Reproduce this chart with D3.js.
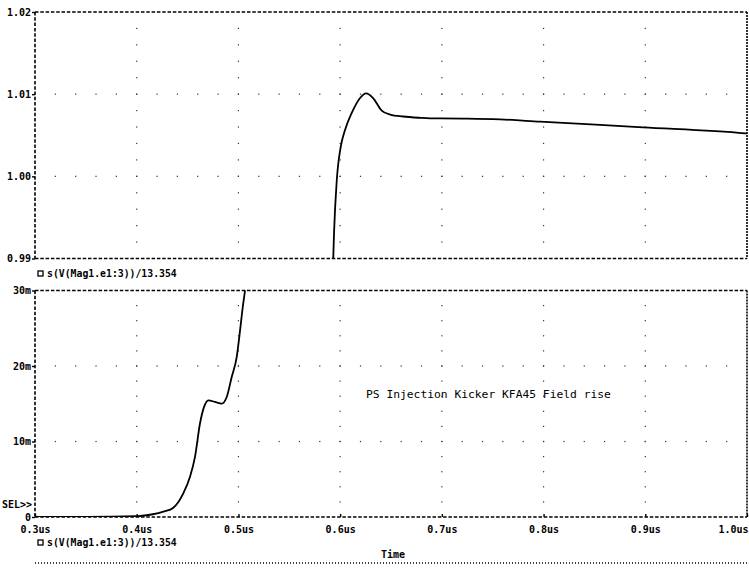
<!DOCTYPE html>
<html>
<head>
<meta charset="utf-8">
<script src="https://cdn.jsdelivr.net/npm/d3@7"></script>
<style>
  body { margin: 0; background: #fff; }
  svg { display: block; }
  text { font-family: "DejaVu Sans Mono", monospace; fill: #000; }
</style>
</head>
<body>
<svg></svg>
<script>
// данные графика
const timeTicks = [0.3, 0.4, 0.5, 0.6, 0.7, 0.8, 0.9, 1.0];
const timeLabels = ["0.3us", "0.4us", "0.5us", "0.6us", "0.7us", "0.8us", "0.9us", "1.0us"];

const upperTicks = [0.99, 1.00, 1.01, 1.02];
const upperLabels = ["0.99", "1.00", "1.01", "1.02"];
const lowerTicks = [0, 0.01, 0.02, 0.03];
const lowerLabels = ["0", "10m", "20m", "30m"];

// верхняя панель: вершина фронта
const upperTime = [0.5931, 0.594, 0.5967, 0.6006, 0.6048, 0.6114, 0.6196, 0.6255, 0.6324, 0.6409,
    0.6491, 0.6619, 0.6786, 0.6884, 0.6983, 0.7248, 0.7572, 0.7966, 0.8978, 0.9981, 1.0];
const upperValue = [0.9895, 0.9931, 0.99955, 1.00361, 1.00564, 1.00771, 1.00953, 1.0101, 1.00953, 1.008,
    1.00752, 1.00728, 1.00712, 1.00706, 1.00705, 1.00703, 1.00694, 1.00665, 1.00597, 1.00524, 1.00522];

// нижняя панель: начало фронта
const lowerTime = [0.3, 0.35, 0.4, 0.4032, 0.4262, 0.436, 0.4458, 0.4524, 0.4573, 0.4622, 0.4662,
    0.4704, 0.477, 0.4836, 0.4885, 0.4934, 0.4983, 0.5016, 0.5042, 0.5065, 0.509];
const lowerValue = [0, 0, 0.0001, 0.00013, 0.0007, 0.00123, 0.00313, 0.00533, 0.00797, 0.01238, 0.01458,
    0.01546, 0.01524, 0.01502, 0.0159, 0.01854, 0.02118, 0.02471, 0.02775, 0.03, 0.0325];

const traceName = "s(V(Mag1.e1:3))/13.354";
const note = "PS Injection Kicker KFA45 Field rise";

const width = 749, height = 569;
const svg = d3.select("svg").attr("width", width).attr("height", height);

const x = d3.scaleLinear().domain([0.3, 1.0]).range([35, 747]);

function boldLabels(sel) {
    sel.style("font-family", "'DejaVu Sans Mono', monospace")
        .style("font-size", "10px").style("font-weight", "bold")
        .attr("fill", "#000");
}

class Panel {
    constructor(id, domain, top, bottom, ticks, labels) {
        this.id = id;
        this.top = top;
        this.bottom = bottom;
        this.ticks = ticks;
        this.labels = labels;
        this.y = d3.scaleLinear().domain(domain).range([bottom, top]);
        this.g = svg.append("g");
        svg.append("clipPath").attr("id", id)
            .append("rect")
            .attr("x", x.range()[0]).attr("y", top)
            .attr("width", x.range()[1] - x.range()[0]).attr("height", bottom - top);
    }

    drawGrid() {
        const y = this.y;
        const [y0, y1] = y.domain();
        const dots = [];
        // вертикальные точечные линии
        timeTicks.slice(1, -1).forEach(t => {
            for (let k = 1; k < 15; k++) dots.push([x(t), y(y0 + (y1 - y0) * k / 15)]);
        });
        // горизонтальные точечные линии
        this.ticks.slice(1, -1).forEach(v => {
            for (let k = 1; k < 35; k++) dots.push([x(0.3 + 0.7 * k / 35), y(v)]);
        });
        this.g.append("g").selectAll("rect").data(dots).join("rect")
            .attr("x", d => d[0] - 0.6).attr("y", d => d[1] - 0.6)
            .attr("width", 1.2).attr("height", 1.2)
            .attr("fill", "#333");
    }

    drawFrame() {
        const [xl, xr] = x.range();
        const frame = this.g.append("g")
            .attr("stroke", "#000").attr("stroke-width", 1.6)
            .attr("stroke-dasharray", "3.5,1.8").attr("fill", "none");
        frame.append("line").attr("x1", xl).attr("x2", xr).attr("y1", this.top).attr("y2", this.top);
        frame.append("line").attr("x1", xl).attr("x2", xr).attr("y1", this.bottom).attr("y2", this.bottom);
        frame.append("line").attr("x1", xl).attr("x2", xl).attr("y1", this.top).attr("y2", this.bottom);
        frame.append("line").attr("x1", xr).attr("x2", xr).attr("y1", this.top).attr("y2", this.bottom)
            .attr("stroke-dasharray", "2,1");

        const axis = d3.axisLeft(this.y)
            .tickValues(this.ticks)
            .tickFormat((d, i) => this.labels[i])
            .tickSize(3).tickPadding(1);
        const ga = this.g.append("g").attr("transform", `translate(${xl},0)`).call(axis);
        ga.select(".domain").remove();
        ga.selectAll("line").attr("stroke", "#000").attr("stroke-width", 1.4);
        ga.selectAll("text").call(boldLabels);
    }

    drawTrace(times, values) {
        const line = d3.line()
            .x((d, i) => x(times[i]))
            .y(d => this.y(d))
            .curve(d3.curveMonotoneX);
        this.g.append("path")
            .attr("clip-path", `url(#${this.id})`)
            .attr("d", line(values))
            .attr("fill", "none")
            .attr("stroke", "#000")
            .attr("stroke-width", 1.8);
    }
}

function legend(yPos) {
    svg.append("rect").attr("x", 38).attr("y", yPos - 3).attr("width", 5).attr("height", 5)
        .attr("fill", "none").attr("stroke", "#000").attr("stroke-width", 1.3);
    svg.append("text").attr("x", 47).attr("y", yPos).attr("dy", "0.35em")
        .style("font-size", "9.8px").style("font-weight", "bold")
        .text(traceName);
}

// верхняя панель
const upper = new Panel("clipUpper", [0.99, 1.02], 12, 258.5, upperTicks, upperLabels);
upper.drawGrid();
upper.drawFrame();
upper.drawTrace(upperTime, upperValue);
legend(274);

// нижняя панель
const lower = new Panel("clipLower", [0, 0.03], 290.5, 517, lowerTicks, lowerLabels);
lower.drawGrid();
lower.drawFrame();
lower.drawTrace(lowerTime, lowerValue);

// ось времени
const xAxis = d3.axisBottom(x)
    .tickValues(timeTicks)
    .tickFormat((d, i) => timeLabels[i])
    .tickSize(-3).tickPadding(9);
const gx = svg.append("g").attr("transform", `translate(0,${lower.bottom})`).call(xAxis);
gx.select(".domain").remove();
gx.selectAll("line").attr("stroke", "#000").attr("stroke-width", 1.4);
gx.selectAll("text").call(boldLabels);
gx.selectAll("text").filter((d, i) => i === timeTicks.length - 1)
    .attr("text-anchor", "end").attr("x", 1);

svg.append("text").attr("x", 32).attr("y", 504).attr("dy", "0.35em")
    .attr("text-anchor", "end")
    .style("font-size", "10px").style("font-weight", "bold")
    .text("SEL>>");

legend(543);

svg.append("text").attr("x", 393).attr("y", 554).attr("dy", "0.35em")
    .attr("text-anchor", "middle")
    .style("font-size", "10px").style("font-weight", "bold")
    .text("Time");

svg.append("line").attr("x1", 35).attr("x2", 749).attr("y1", 563).attr("y2", 563)
    .attr("stroke", "#000").attr("stroke-width", 1.3).attr("stroke-dasharray", "1,2");

// подпись на графике
svg.append("text").attr("x", 366).attr("y", 394).attr("dy", "0.35em")
    .style("font-size", "11.3px")
    .text(note);
</script>
</body>
</html>
